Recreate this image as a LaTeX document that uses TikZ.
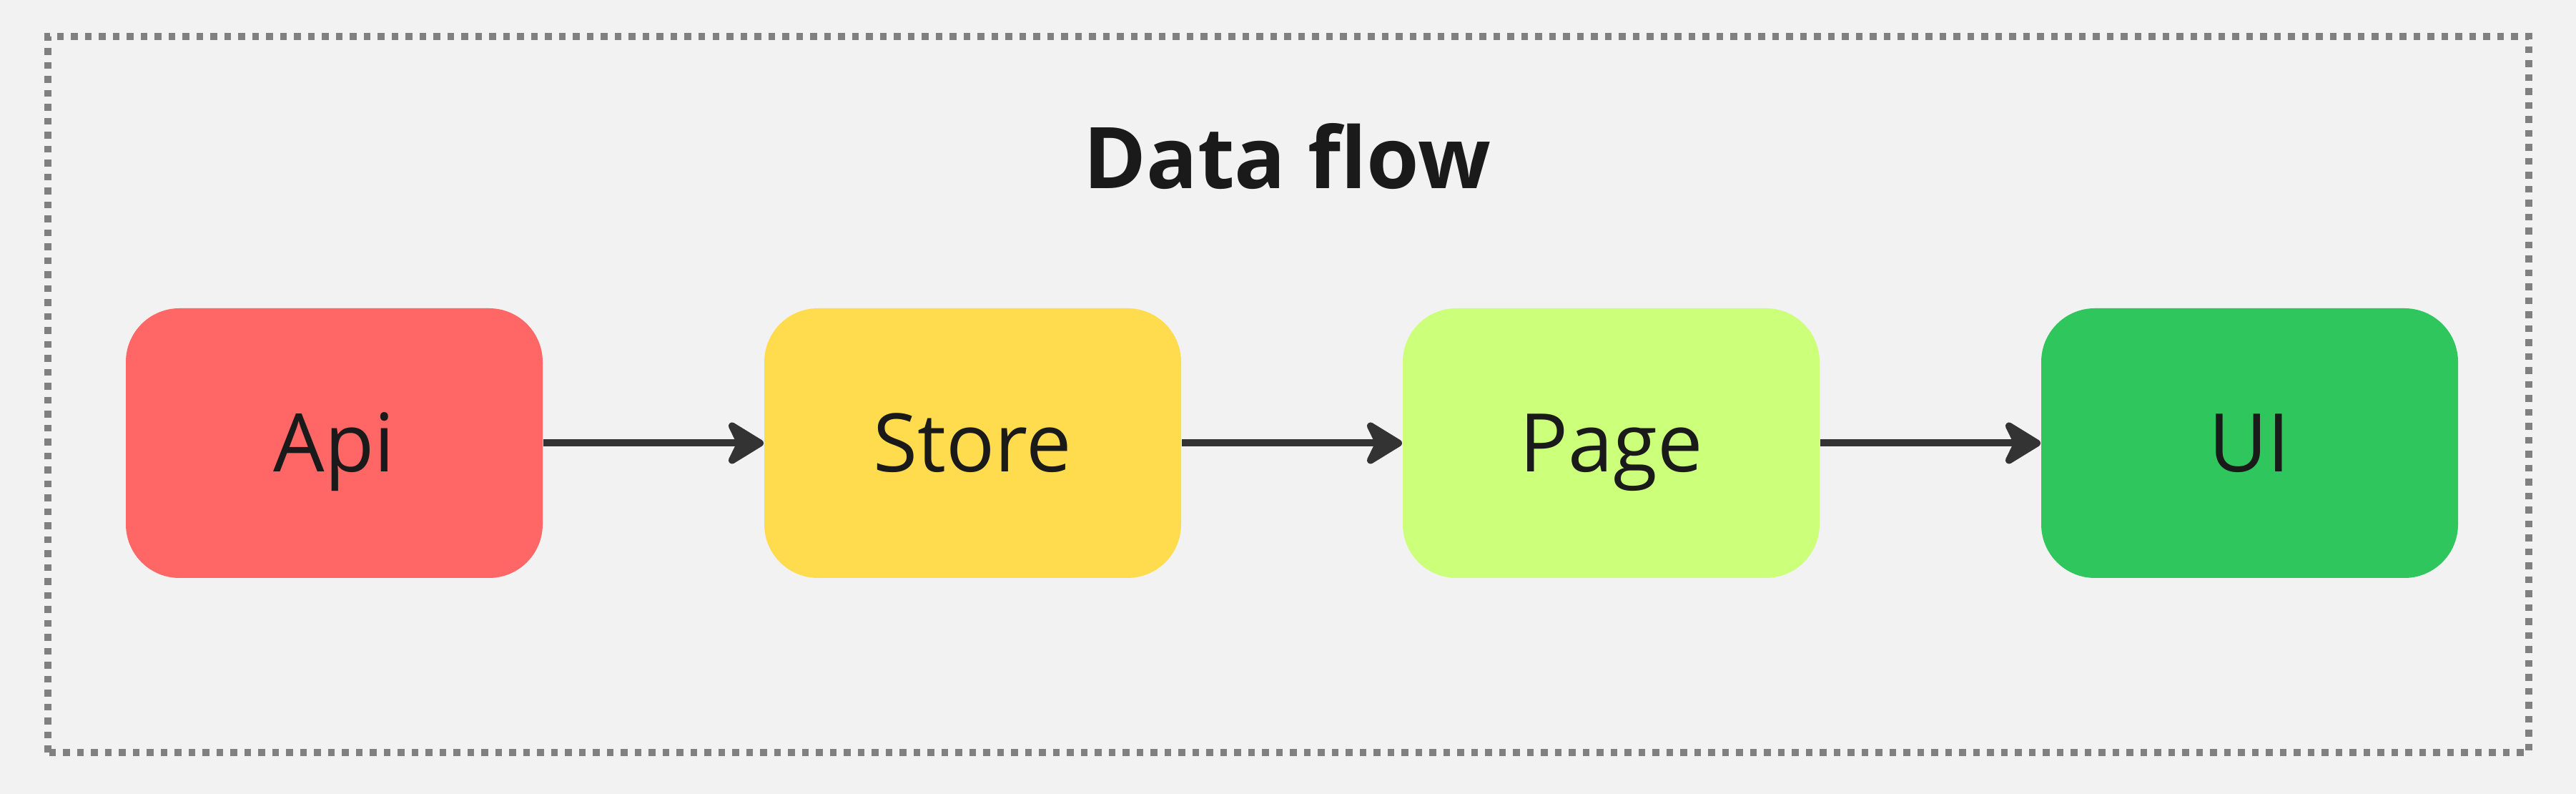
\documentclass[tikz,border=0pt]{standalone}
\usepackage{fontspec}
\setmainfont{Open Sans}
\usepackage{tikz}
\usetikzlibrary{arrows.meta, positioning}
\definecolor{bgGray}{HTML}{F2F2F2}
\definecolor{frameGray}{HTML}{808080}
\definecolor{inkBlack}{HTML}{1A1A1A}
\definecolor{arrowGray}{HTML}{333333}
\definecolor{apiRed}{HTML}{FF6666}
\definecolor{storeYellow}{HTML}{FFDC4E}
\definecolor{pageLime}{HTML}{CCFF7A}
\definecolor{uiGreen}{HTML}{2FC75D}
\tikzset{
	stage/.style={rectangle, rounded corners=15pt, minimum width=116.6pt, minimum height=75.4pt, inner sep=0pt,
		font=\fontsize{22.6pt}{26pt}\selectfont, text=inkBlack, text height=16.2pt, text depth=0pt},
	flow/.style={-{Stealth[length=12pt, width=14.6pt, inset=3.5pt, round]}, line width=2pt, arrowGray}
}

\begin{document}
\begin{tikzpicture}
		\fill[bgGray] (0pt,0pt) rectangle (720.6pt,222pt);
		\useasboundingbox (0pt,0pt) rectangle (720.6pt,222pt);
			%frame:
			\draw[frameGray, line width=1.9pt, dash pattern=on 1.9pt off 2pt] (13.4pt,11.6pt) rectangle (707.4pt,211.8pt);
			\node[font=\bfseries\fontsize{23.8pt}{28pt}\selectfont, text=inkBlack, anchor=base] (title) at (360pt,169.2pt) {Data flow};

			%stages:
			\node[stage, fill=apiRed] (api) at (93.5pt,98.1pt) {Api};
			\node[stage, fill=storeYellow, right=61.6pt of api] (store) {Store};
			\node[stage, fill=pageLime, right=61.6pt of store] (page) {Page};
			\node[stage, fill=uiGreen, right=61.6pt of page] (ui) {UI};

			%arrows:
			\draw[flow] (api) -- (store);
			\draw[flow] (store) -- (page);
			\draw[flow] (page) -- (ui);
	\end{tikzpicture}
\end{document}
